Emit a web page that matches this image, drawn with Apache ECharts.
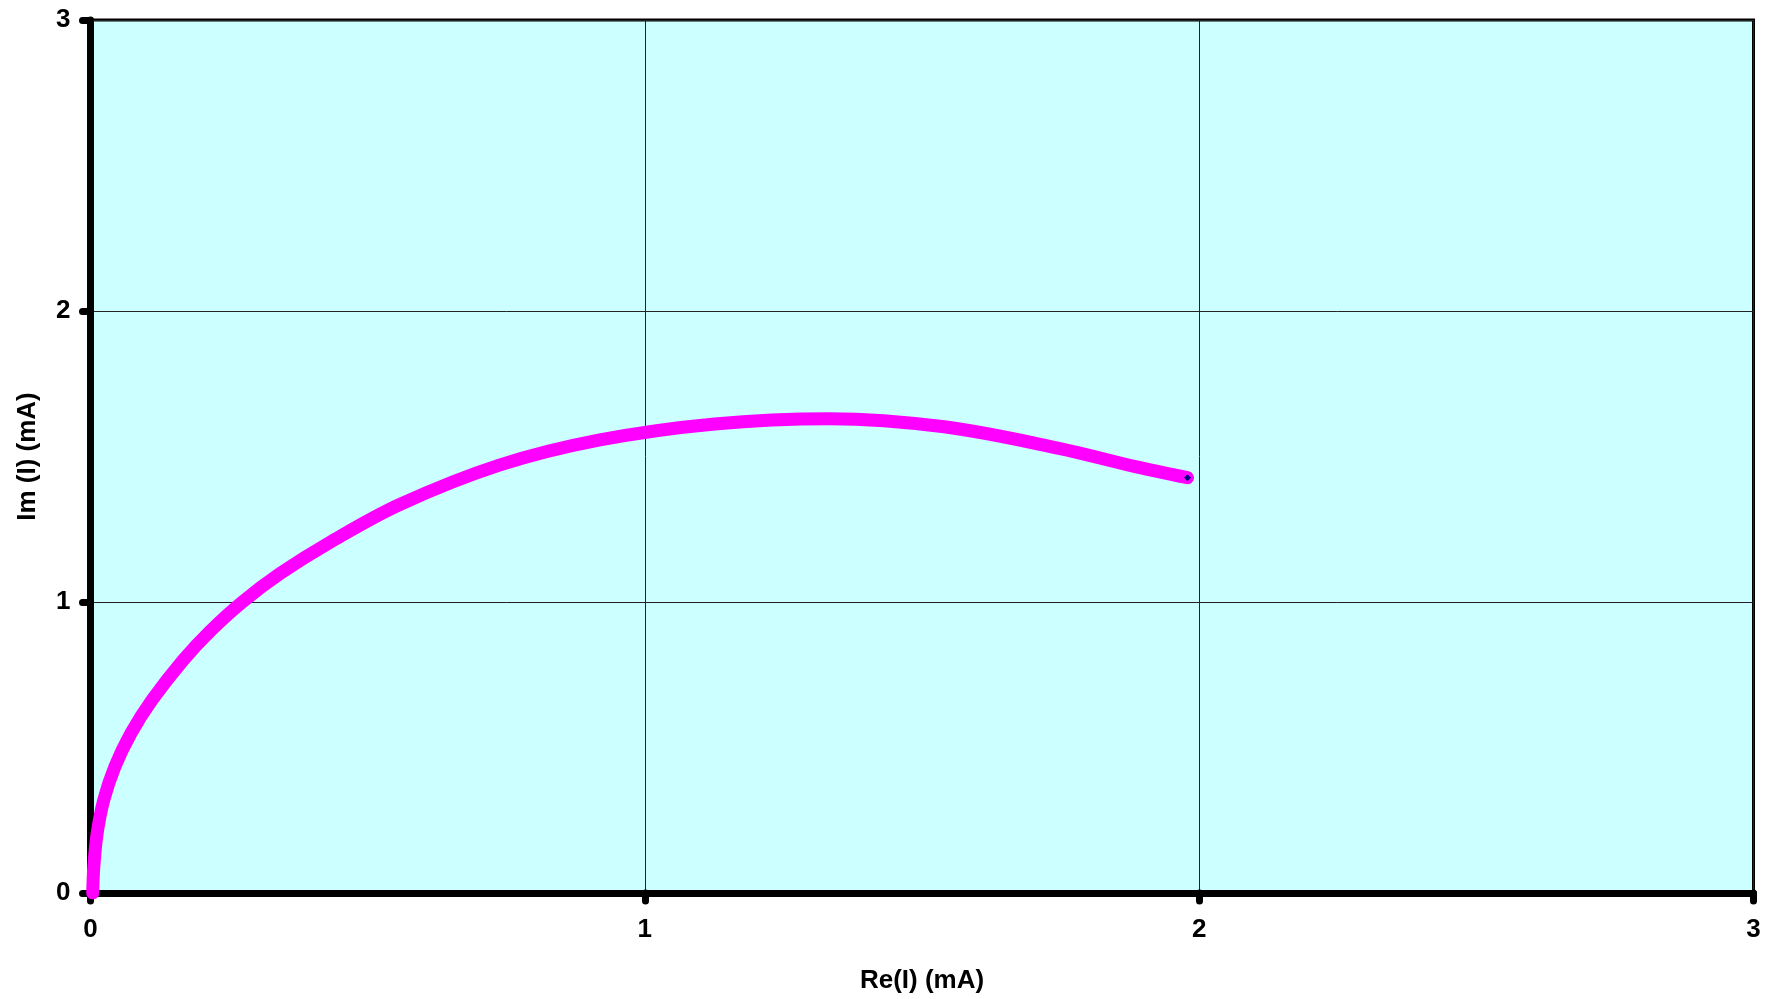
<!DOCTYPE html>
<html>
<head>
<meta charset="utf-8">
<script src="https://cdn.jsdelivr.net/npm/echarts@6/dist/echarts.min.js"></script>
<style>
html,body{margin:0;padding:0;background:#fff;}
#chart{width:1774px;height:999px;}
</style>
</head>
<body>
<div id="chart"></div>
<script>
// Re(I) values (mA)
const reI = [0.004, 0.006, 0.012, 0.024, 0.044, 0.073, 0.111, 0.167, 0.216, 0.274, 0.343, 0.432, 0.558, 0.739, 0.919, 1.126, 1.333, 1.540, 1.747, 1.885, 1.979];
// Im(I) values (mA)
const imI = [0.000, 0.090, 0.205, 0.320, 0.434, 0.549, 0.663, 0.800, 0.900, 1.000, 1.099, 1.205, 1.335, 1.471, 1.557, 1.612, 1.630, 1.602, 1.528, 1.465, 1.427];
const xTicks = [0, 1, 2, 3];
const yTicks = [0, 1, 2, 3];
const xName = 'Re(I) (mA)';
const yName = 'Im (I) (mA)';

const points = reI.map((x, i) => {
  const p = { value: [x, imI[i]] };
  if (i === reI.length - 1) {
    p.symbol = 'diamond';
    p.symbolSize = 9;
    p.itemStyle = { color: '#000080', borderColor: '#FF00FF', borderWidth: 1.5 };
  }
  return p;
});

const font = 'Liberation Sans, Arial, sans-serif';
const chart = echarts.init(document.getElementById('chart'), null, { renderer: 'canvas' });
chart.setOption({
  animation: false,
  backgroundColor: '#ffffff',
  grid: {
    left: 90.5, right: 20.5, top: 20, bottom: 106,
    show: true, backgroundColor: '#CCFFFF', borderColor: '#000000', borderWidth: 3
  },
  xAxis: {
    type: 'value', min: xTicks[0], max: xTicks[xTicks.length - 1], interval: 1,
    name: xName, nameLocation: 'middle', nameGap: 75,
    nameTextStyle: { fontFamily: font, fontWeight: 'bold', fontSize: 26, color: '#000' },
    axisLine: { show: true, onZero: false, lineStyle: { color: '#000', width: 7 } },
    axisTick: { show: true, length: 8, lineStyle: { color: '#000', width: 7, cap: 'round' } },
    axisLabel: { margin: 24, fontFamily: font, fontWeight: 'bold', fontSize: 26, color: '#000',
      formatter: v => String(v) },
    splitLine: { show: true, lineStyle: { color: '#222', width: 1 } }
  },
  yAxis: {
    type: 'value', min: yTicks[0], max: yTicks[yTicks.length - 1], interval: 1,
    name: yName, nameLocation: 'middle', nameGap: 50, nameRotate: 90,
    nameTextStyle: { fontFamily: font, fontWeight: 'bold', fontSize: 26, color: '#000' },
    axisLine: { show: true, onZero: false, lineStyle: { color: '#000', width: 7 } },
    axisTick: { show: true, length: 8, lineStyle: { color: '#000', width: 7, cap: 'round' } },
    axisLabel: { margin: 20, fontFamily: font, fontWeight: 'bold', fontSize: 26, color: '#000',
      formatter: v => String(v) },
    splitLine: { show: true, lineStyle: { color: '#222', width: 1 } }
  },
  series: [{
    type: 'line',
    data: points,
    smooth: 0.35,
    showSymbol: true,
    symbol: 'none',
    lineStyle: { color: '#FF00FF', width: 13, cap: 'round', join: 'round' },
    itemStyle: { color: '#FF00FF' },
    z: 5
  }]
});
</script>
</body>
</html>
